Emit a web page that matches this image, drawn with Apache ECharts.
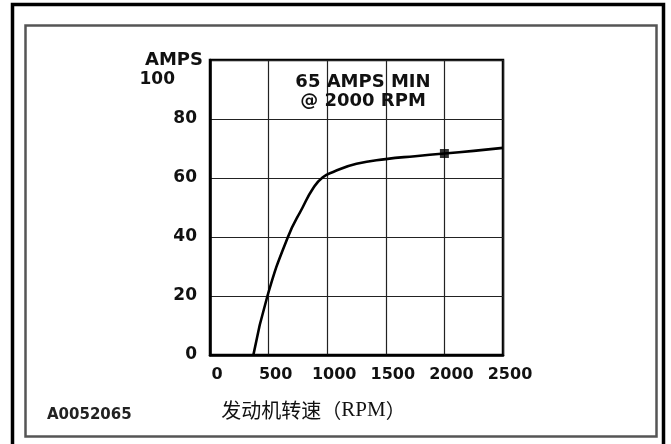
<!DOCTYPE html>
<html>
<head>
<meta charset="utf-8">
<script src="https://cdn.jsdelivr.net/npm/echarts@6/dist/echarts.min.js"></script>
<style>
  html, body { margin: 0; padding: 0; background: #fff; }
  #chart { width: 671px; height: 444px; }
</style>
</head>
<body>
<div id="chart"></div>
<script>
// engine speed (rpm) vs output current (amps)
var rpm  = [370, 490, 665, 790, 880, 960, 1060, 1250, 1500, 1750, 2000, 2250, 2500];
var amps = [0, 20, 40, 50, 56.5, 60.2, 62.2, 64.8, 66.4, 67.4, 68.3, 69.2, 70.2];
// rated point marked on the curve
var ratedRpm = [2000];
var ratedAmps = [68.3];
var xTicks = [0, 500, 1000, 1500, 2000, 2500];
var yTicks = [0, 20, 40, 60, 80, 100];
var note = ['65 AMPS MIN', '@ 2000 RPM'];
var figureId = 'A0052065';

var curve = rpm.map(function (r, i) { return [r, amps[i]]; });
var rated = ratedRpm.map(function (r, i) { return [r, ratedAmps[i]]; });

var chart = echarts.init(document.getElementById('chart'));
var sans = 'DejaVu Sans';

chart.setOption({
  backgroundColor: '#fff',
  animation: false,
  title: [{
    text: note.join('\n'),
    left: 358,
    top: 68,
    textAlign: 'center',
    textStyle: { fontFamily: sans, fontWeight: 'bold', fontSize: 18, lineHeight: 19, color: '#111' }
  }, {
    text: figureId,
    left: 42,
    top: 403,
    textStyle: { fontFamily: sans, fontWeight: 'bold', fontSize: 15, color: '#222' }
  }],
  graphic: [{
    type: 'rect',
    shape: { x: 12.5, y: 4.5, width: 651, height: 460 },
    style: { fill: 'none', stroke: '#000', lineWidth: 3.5 }
  }, {
    type: 'rect',
    shape: { x: 25.5, y: 25.5, width: 631, height: 411 },
    style: { fill: 'none', stroke: '#555', lineWidth: 2.5 }
  }],
  grid: {
    left: 210, right: 168, top: 60, bottom: 89,
    show: true, borderColor: '#000', borderWidth: 2.5
  },
  xAxis: {
    type: 'value',
    min: 0, max: 2500, interval: 500,
    name: '{cn|发动机转速（}{en|RPM}{cn|）}',
    nameLocation: 'middle',
    nameGap: 45,
    nameTextStyle: {
      padding: [0, 86, 0, 0],
      rich: {
        cn: { fontFamily: 'Noto Sans CJK SC', fontSize: 20, color: '#111' },
        en: { fontFamily: 'Liberation Serif', fontSize: 21, color: '#111' }
      }
    },
    axisLine: { lineStyle: { color: '#000', width: 2.5 } },
    axisTick: { show: false },
    axisLabel: {
      margin: 12,
      padding: [0, 0, 0, 14],
      fontFamily: sans, fontWeight: 'bold', fontSize: 16, color: '#111',
      formatter: function (v) { return xTicks.indexOf(v) >= 0 ? String(v) : ''; }
    },
    splitLine: { lineStyle: { color: '#222', width: 1.2 } }
  },
  yAxis: {
    type: 'value',
    min: 0, max: 100, interval: 20,
    name: 'AMPS',
    nameLocation: 'end',
    nameGap: 0,
    nameTextStyle: {
      fontFamily: sans, fontWeight: 'bold', fontSize: 18, color: '#111',
      align: 'right', verticalAlign: 'middle', padding: [0, 7, 0, 0]
    },
    axisLine: { lineStyle: { color: '#000', width: 2.5 } },
    axisTick: { show: false },
    axisLabel: {
      margin: 13,
      fontFamily: sans, fontWeight: 'bold', fontSize: 17, color: '#111',
      formatter: function (v) {
        if (yTicks.indexOf(v) < 0) return '';
        return v === 100 ? '{low|100}' : String(v);
      },
      rich: {
        low: { fontFamily: sans, fontWeight: 'bold', fontSize: 17, color: '#111', padding: [40, 22, 0, 0] }
      }
    },
    splitLine: { lineStyle: { color: '#222', width: 1.2 } }
  },
  series: [{
    type: 'line',
    data: curve,
    smooth: 0.5,
    showSymbol: false,
    lineStyle: { color: '#000', width: 2.6 }
  }, {
    type: 'scatter',
    data: rated,
    symbol: 'rect',
    symbolSize: 9,
    itemStyle: { color: '#000' }
  }]
});
</script>
</body>
</html>
